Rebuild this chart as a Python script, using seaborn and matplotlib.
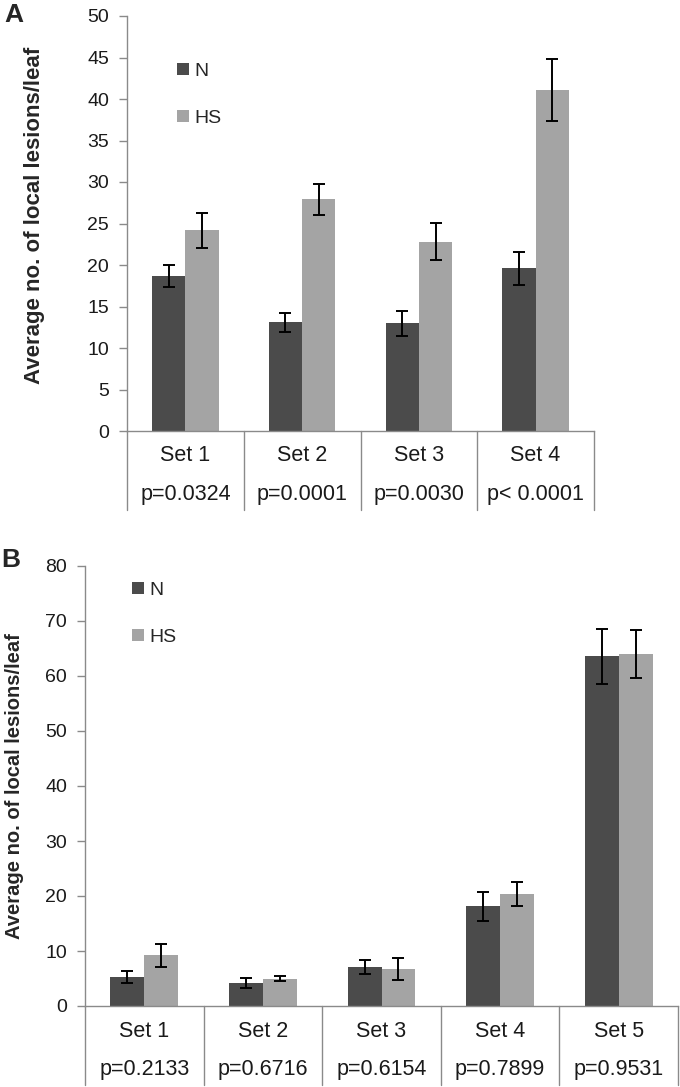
import numpy as np
import pandas as pd
import matplotlib
matplotlib.use('Agg')
import matplotlib.pyplot as plt
import seaborn as sns
from matplotlib.patches import Patch

sns.set_style('white')
plt.rcParams['font.family'] = ['Liberation Sans', 'DejaVu Sans']

# panel A data
sets_a = ['Set 1', 'Set 2', 'Set 3', 'Set 4']
pvals_a = ['p=0.0324', 'p=0.0001', 'p=0.0030', 'p< 0.0001']
n_a = [18.7, 13.1, 13.0, 19.6]
n_a_err = [1.35, 1.15, 1.5, 1.95]
hs_a = [24.2, 27.9, 22.8, 41.1]
hs_a_err = [2.1, 1.85, 2.25, 3.7]

# panel B data
sets_b = ['Set 1', 'Set 2', 'Set 3', 'Set 4', 'Set 5']
pvals_b = ['p=0.2133', 'p=0.6716', 'p=0.6154', 'p=0.7899', 'p=0.9531']
n_b = [5.3, 4.2, 7.1, 18.1, 63.6]
n_b_err = [1.1, 0.9, 1.2, 2.6, 5.0]
hs_b = [9.2, 5.0, 6.8, 20.3, 64.0]
hs_b_err = [2.1, 0.5, 2.0, 2.2, 4.4]

groups = ['N', 'HS']
colors = {'N': '#4b4b4b', 'HS': '#a4a4a4'}
gray = '#8a8a8a'


def draw_panel(ax, sets, pvals, n, n_err, hs, hs_err, ymax, step,
               leg_xy, ylab_xy, ylab_size, set_y, p_y, bot_y):
    df = pd.DataFrame({
        'set': sets * 2,
        'group': ['N'] * len(sets) + ['HS'] * len(sets),
        'value': list(n) + list(hs),
    })
    sns.barplot(data=df, x='set', y='value', hue='group', hue_order=groups,
                palette=colors, width=0.57, errorbar=None, legend=False,
                saturation=1, edgecolor='none', ax=ax)
    for cont, vals, errs in zip(ax.containers, [n, hs], [n_err, hs_err]):
        xs = [b.get_x() + b.get_width() / 2 for b in cont]
        ax.errorbar(xs, vals, yerr=errs, fmt='none', ecolor='black',
                    elinewidth=1.4, capsize=4.3, capthick=1.4, zorder=5)

    k = len(sets)
    ax.set_xlim(-0.5, k - 0.5)
    ax.set_ylim(0, ymax)
    ax.set_yticks(np.arange(0, ymax + 1, step))
    ax.tick_params(axis='y', length=6, width=1, color=gray, pad=7,
                   labelsize=14, labelcolor='#1a1a1a', left=True)
    ax.tick_params(axis='x', length=0, labelbottom=False)
    ax.set_xlabel('')
    for s in ['top', 'right']:
        ax.spines[s].set_visible(False)
    for s in ['left', 'bottom']:
        ax.spines[s].set_color(gray)
        ax.spines[s].set_linewidth(1)

    # category table under the axis
    tr = ax.get_xaxis_transform()
    for i in range(k + 1):
        ax.plot([i - 0.5, i - 0.5], [0, bot_y], transform=tr,
                clip_on=False, color=gray, lw=1)
    for i in range(k):
        ax.text(i, set_y, sets[i], transform=tr, ha='center', va='center',
                fontsize=15.5, color='#1a1a1a')
        ax.text(i, p_y, pvals[i], transform=tr, ha='center', va='center',
                fontsize=15.5, color='#1a1a1a')

    ax.set_ylabel('Average no. of local lesions/leaf', fontsize=ylab_size,
                  fontweight='bold')
    ax.yaxis.set_label_coords(*ylab_xy)

    handles = [Patch(facecolor=colors[g], edgecolor='none', label=g)
               for g in groups]
    ax.legend(handles=handles, loc='upper left', bbox_to_anchor=leg_xy,
              frameon=False, fontsize=14, handlelength=0.6,
              handleheight=0.6, handletextpad=0.3, labelspacing=1.55,
              borderpad=0, borderaxespad=0)


fig = plt.figure(figsize=(6.8, 10.87), dpi=100)
W, H = 680, 1087
ax_a = fig.add_axes([127 / W, 1 - 431 / H, 467 / W, 415 / H])
ax_b = fig.add_axes([85 / W, 1 - 1006 / H, 593 / W, 440 / H])

draw_panel(ax_a, sets_a, pvals_a, n_a, n_a_err, hs_a, hs_a_err, 50, 5,
           leg_xy=(0.107, 0.887), ylab_xy=(-0.176, 0.52), ylab_size=16,
           set_y=-0.060, p_y=-0.154, bot_y=-0.19)
draw_panel(ax_b, sets_b, pvals_b, n_b, n_b_err, hs_b, hs_b_err, 80, 10,
           leg_xy=(0.079, 0.964), ylab_xy=(-0.103, 0.5), ylab_size=14.5,
           set_y=-0.057, p_y=-0.145, bot_y=-0.18)

fig.text(4 / W, 1 - 15 / H, 'A', fontsize=19, fontweight='bold', va='center')
fig.text(1 / W, 1 - 560 / H, 'B', fontsize=19, fontweight='bold', va='center')

fig.savefig('out.png', dpi=100)
